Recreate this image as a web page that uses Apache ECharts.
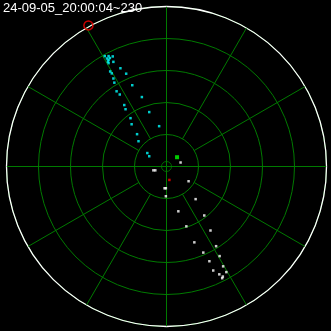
<!DOCTYPE html>
<html>
<head>
<meta charset="utf-8">
<script src="https://cdn.jsdelivr.net/npm/echarts@6/dist/echarts.min.js"></script>
<style>html,body{margin:0;padding:0;background:#000;}#c{width:331px;height:331px;}</style>
</head>
<body>
<div id="c"></div>
<script>
// Title
const titleText = '24-09-05_20:00:04~230';
// Range rings and spokes
const maxRange = 50;
const ringStep = 10;
const spokeAngles = [0, 30, 60, 90, 120, 150, 180, 210, 240, 270, 300, 330];
const fullSpokes = [0, 90, 180, 270];
// Targets as [east, north] offsets
const cyanPoints = [
  [-19.3, 34.5], [-18.1, 34.5], [-16.8, 34.4], [-18.6, 33.75], [-18.1, 33.3],
  [-18.3, 32.8], [-18.1, 32.3], [-17.7, 33.9], [-16.6, 32.7], [-14.4, 30.7],
  [-17.6, 29.7], [-17.1, 29.1], [-12.6, 29.0], [-16.6, 27.5], [-16.3, 26.2],
  [-10.7, 25.4], [-15.6, 23.5], [-14.6, 22.5], [-7.7, 21.7], [-13.2, 19.2],
  [-12.8, 17.9], [-5.4, 17.0], [-11.25, 15.1], [-10.9, 13.2], [-2.3, 12.6],
  [-9.2, 10.1], [-8.75, 7.9], [-6.0, 4.2], [-5.4, 3.2]
];
const whitePoints = [
  [4.4, 1.25], [-4.1, -1.2], [-3.5, -1.2], [-0.6, -6.8], [-0.2, -6.8], [-0.2, -9.3],
  [6.9, -4.6], [9.1, -10.2], [3.7, -14.0], [11.8, -15.3], [6.2, -18.7],
  [13.75, -20.0], [8.7, -23.7], [15.5, -24.9], [11.5, -26.9], [16.6, -28.0],
  [13.4, -29.6], [17.7, -31.2], [14.6, -32.5], [18.7, -33.0], [16.5, -33.7],
  [17.6, -34.4], [17.4, -34.9]
];
const greenPoints = [[3.3, 2.9]];
const redPoints = [[0.9, -4.2]];
const markerPoints = [[-24.4, 44.1]];
const centerMark = [[0, 0]];

const GREEN = '#007a00';

const spokeSeries = spokeAngles.map(a => ({
  type: 'line',
  coordinateSystem: 'polar',
  polarIndex: 0,
  data: [[fullSpokes.includes(a) ? 0 : ringStep, a], [maxRange, a]],
  symbol: 'none',
  silent: true,
  lineStyle: { color: GREEN, width: 1 },
  z: 1
}));

function scatter(data, color, size, extra) {
  return Object.assign({
    type: 'scatter',
    xAxisIndex: 0, yAxisIndex: 0,
    data: data,
    symbol: 'rect',
    symbolSize: size,
    itemStyle: { color: color },
    silent: true,
    z: 5
  }, extra || {});
}

const chart = echarts.init(document.getElementById('c'), null, { renderer: 'canvas' });
chart.setOption({
  backgroundColor: '#000',
  animation: false,
  title: {
    text: titleText,
    left: 3, top: 2, padding: 0,
    textStyle: { color: '#fff', fontSize: 13, fontWeight: 'normal', fontFamily: '"Liberation Sans", Arial, sans-serif' }
  },
  polar: { center: [166.5, 166.5], radius: 160 },
  angleAxis: {
    type: 'value', min: 0, max: 360, startAngle: 90, clockwise: true,
    axisLine: { show: true, lineStyle: { color: '#fff', width: 1.3 } },
    axisTick: { show: false }, axisLabel: { show: false },
    splitLine: { show: false }
  },
  radiusAxis: {
    type: 'value', min: 0, max: maxRange, interval: ringStep,
    axisLine: { show: false }, axisTick: { show: false }, axisLabel: { show: false },
    splitLine: { show: true, lineStyle: { color: GREEN, width: 1 } }
  },
  grid: { left: 6.5, top: 6.5, width: 320, height: 320 },
  xAxis: { type: 'value', min: -maxRange, max: maxRange, show: false },
  yAxis: { type: 'value', min: -maxRange, max: maxRange, show: false },
  series: spokeSeries.concat([
    scatter(centerMark, 'transparent', 10, { symbol: 'circle', itemStyle: { color: 'transparent', borderColor: GREEN, borderWidth: 1 }, z: 2 }),
    scatter(cyanPoints, '#00ffff', 2.5),
    scatter(whitePoints, '#ffffff', 2.5),
    scatter(greenPoints, '#00ff00', 4),
    scatter(redPoints, '#ff0000', 2.5),
    scatter(markerPoints, 'transparent', 9, { symbol: 'circle', itemStyle: { color: 'transparent', borderColor: '#ff0000', borderWidth: 1.5 } })
  ])
});
</script>
</body>
</html>
